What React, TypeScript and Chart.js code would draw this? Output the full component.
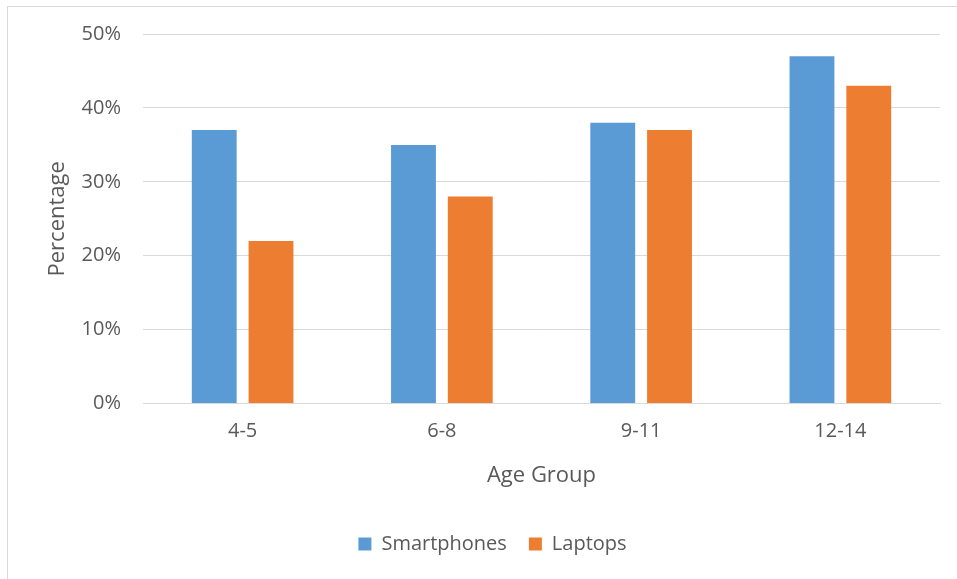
import React, { useEffect, useRef } from "react";
import { Chart, registerables } from "chart.js";

Chart.register(...registerables);

const categories = ["4-5", "6-8", "9-11", "12-14"];
const smartphones = [37, 35, 38, 47];
const laptops = [22, 28, 37, 43];
const yTicks = [0, 10, 20, 30, 40, 50];

const FONT = "'Open Sans', 'Noto Sans', sans-serif";
const TEXT = "#595959";

export default function App() {
  const ref = useRef<HTMLCanvasElement | null>(null);
  useEffect(() => {
    if (!ref.current) return;
    const chart = new Chart(ref.current, {
      type: "bar",
      data: {
        labels: categories,
        datasets: [
          { label: "Smartphones", data: smartphones, backgroundColor: "#5B9BD5", categoryPercentage: 0.57, barPercentage: 0.79 },
          { label: "Laptops", data: laptops, backgroundColor: "#ED7D31", categoryPercentage: 0.57, barPercentage: 0.79 },
        ],
      },
      options: {
        animation: false,
        responsive: false,
        maintainAspectRatio: false,
        layout: { padding: { left: 45, right: 17, top: 33, bottom: 15 } },
        plugins: {
          tooltip: { enabled: false },
          legend: {
            position: "bottom",
            labels: {
              font: { family: FONT, size: 20 },
              color: TEXT,
              boxWidth: 13,
              boxHeight: 13,
              padding: 22,
            },
          },
        },
        scales: {
          x: {
            grid: { display: false, drawTicks: false },
            border: { color: "#d9d9d9", width: 1 },
            ticks: { font: { family: FONT, size: 20 }, color: TEXT, padding: 16 },
            title: { display: true, text: "Age Group", font: { family: FONT, size: 22 }, color: TEXT, padding: { top: 3, bottom: 23 } },
          },
          y: {
            min: 0,
            max: 50,
            afterBuildTicks: (axis: any) => {
              axis.ticks = yTicks.map((v) => ({ value: v }));
            },
            afterFit: (axis: any) => {
              axis.width = 98;
            },
            grid: { color: "#d9d9d9", drawTicks: false },
            border: { display: false },
            ticks: {
              font: { family: FONT, size: 20 },
              color: TEXT,
              padding: 22,
              callback: (v: any) => v + "%",
            },
            title: { display: true, text: "Percentage", font: { family: FONT, size: 22 }, color: TEXT, padding: { top: 0, bottom: 0 } },
          },
        },
      },
    });
    return () => chart.destroy();
  }, []);
  return (
    <div style={{ position: "fixed", left: 0, top: 0, width: 957, height: 579, background: "#fff" }}>
      <div style={{ position: "absolute", left: 7, top: 6, width: 960, height: 600, border: "1px solid #d9d9d9", boxSizing: "border-box" }} />
      <canvas ref={ref} width={957} height={579} style={{ position: "absolute", left: 0, top: 0 }} />
    </div>
  );
}
